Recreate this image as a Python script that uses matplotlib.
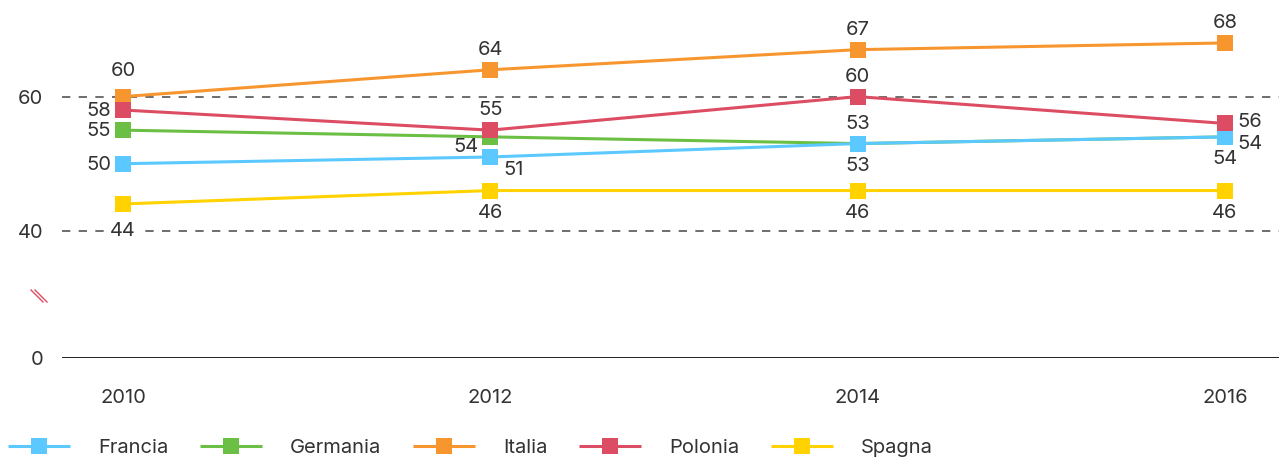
import numpy as np
import matplotlib.pyplot as plt
from matplotlib.lines import Line2D

plt.rcParams['font.family'] = ['Inter', 'DejaVu Sans']

years = [2010, 2012, 2014, 2016]
francia = [50, 51, 53, 54]
germania = [55, 54, 53, 54]
italia = [60, 64, 67, 68]
polonia = [58, 55, 60, 56]
spagna = [44, 46, 46, 46]

series = [
    ("Germania", germania, "#6cbf45", ["left", "left-below", "above", "right-low"]),
    ("Francia", francia, "#5bc9ff", ["left", "right-below", "below", "below"]),
    ("Italia", italia, "#f7962f", ["above-high", "above", "above", "above"]),
    ("Polonia", polonia, "#dc4d63", ["left", "above", "above", "right"]),
    ("Spagna", spagna, "#ffd200", ["below-low", "below", "below", "below"]),
]
legend_order = ["Francia", "Germania", "Italia", "Polonia", "Spagna"]

# label offsets in pixels from the marker centre
offsets = {
    "above": (0, 20, "center"),
    "above-high": (0, 26, "center"),
    "below": (0, -22, "center"),
    "below-low": (0, -27, "center"),
    "left": (-12, -1, "right"),
    "left-below": (-12, -10, "right"),
    "right": (12, 1, "left"),
    "right-low": (12, -7, "left"),
    "right-below": (13, -13, "left"),
}

# broken axis: 0..40 squeezed below the 40..75 band
def forward(v):
    v = np.asarray(v, dtype=float)
    return np.where(v >= 40, v, 21.04 + v * 18.96 / 40)

def inverse(y):
    y = np.asarray(y, dtype=float)
    return np.where(y >= 40, y, (y - 21.04) * 40 / 18.96)

fig = plt.figure(figsize=(12.79, 4.59), dpi=100)
ax = fig.add_axes([62 / 1279, 101 / 459, 1217 / 1279, 358 / 459])
ax.set_yscale('function', functions=(forward, inverse))
ax.set_ylim(0, 74.4)
ax.set_xlim(2009.668, 2016.294)

for v in [40, 60]:
    ax.axhline(v, color="#555555", lw=1.2, dashes=(5, 5), zorder=1)
ax.axhline(0, color="#111111", lw=1.3, zorder=1)

handles = {}
for i, (name, vals, color, pos) in enumerate(series):
    ln, = ax.plot(years, vals, color=color, lw=2.2, marker="s", ms=12,
                  markeredgewidth=0, zorder=3 + i * 0.1, solid_capstyle="butt")
    handles[name] = ln
    for x, y, p in zip(years, vals, pos):
        dx, dy, ha = offsets[p]
        # labels sitting on a grid line get a white backing
        bg = dict(fc="white", ec="none", pad=1) if p == "below-low" else None
        ax.annotate(str(y), (x, y), xytext=(dx, dy), textcoords="offset pixels",
                    ha=ha, va="center", fontsize=14.5, color="#333333", zorder=5,
                    bbox=bg)

for s in ax.spines.values():
    s.set_visible(False)
ax.set_yticks([0, 40, 60])
ax.set_xticks(years)
ax.tick_params(axis="both", length=0, labelsize=14.5, labelcolor="#333333")
ax.tick_params(axis="y", pad=13.5)
ax.tick_params(axis="x", pad=22)

# break marks on the y axis
for dx in (0, 4):
    fig.add_artist(Line2D([(31 + dx) / 1279, (43 + dx) / 1279],
                          [1 - 290 / 459, 1 - 302 / 459],
                          color="#dc4d63", lw=1.0))

fig.legend([handles[n] for n in legend_order], legend_order,
           loc="center left", bbox_to_anchor=(8 / 1279, 1 - 448 / 459), ncol=5,
           frameon=False, borderpad=0, borderaxespad=0,
           fontsize=14.5, handlelength=3.08, handletextpad=1.4, columnspacing=1.56,
           labelcolor="#333333")

plt.savefig("out.png", dpi=100)
